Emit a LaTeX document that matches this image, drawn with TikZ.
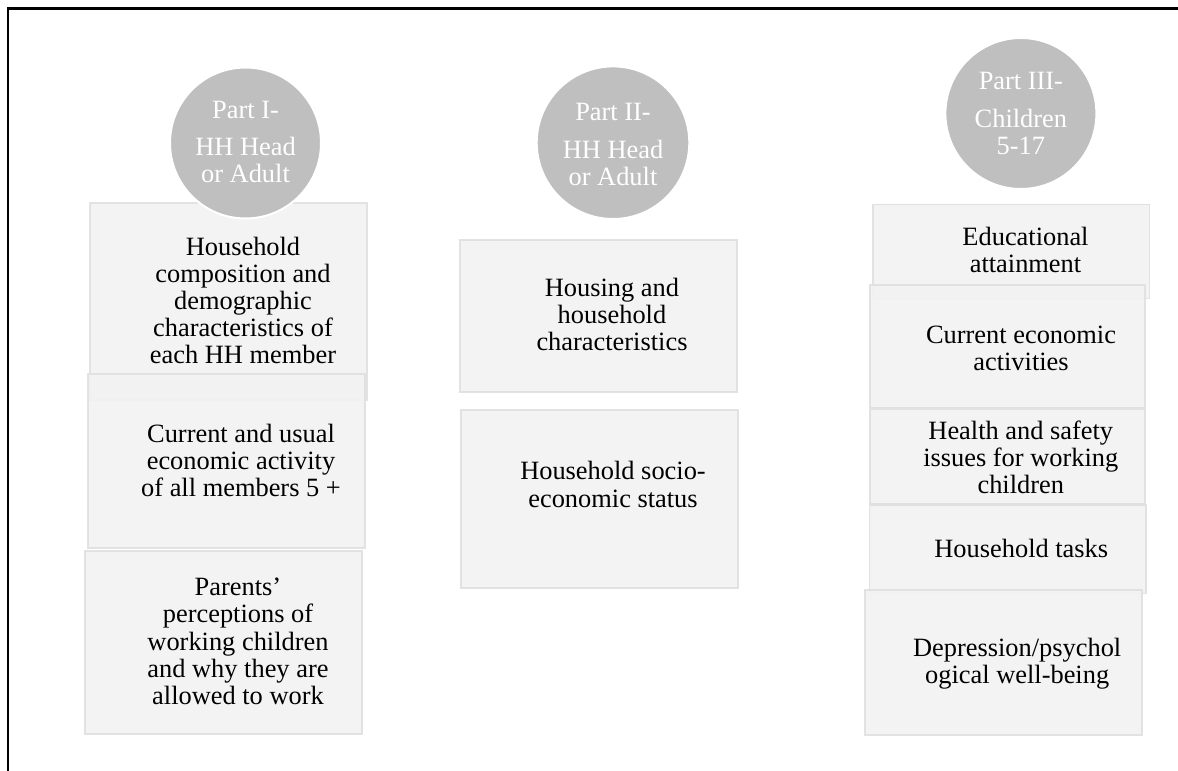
\documentclass[tikz,border=0pt]{standalone}
\usepackage{fontspec}
\setmainfont{Liberation Serif}
\definecolor{boxfill}{HTML}{F2F2F2}
\definecolor{boxedge}{HTML}{E0E0E0}
\definecolor{partfill}{HTML}{BFBFBF}
\begin{document}
\begin{tikzpicture}[x=1pt,y=-1pt,
  topicbox/.style={rectangle, draw=boxedge, fill=boxfill, fill opacity=0.9,
    draw opacity=0.9, line width=1.6pt, inner sep=0pt, outer sep=0pt,
    anchor=north west},
  topictext/.style={inner sep=0pt, align=center, text=black,
    font=\fontsize{26.4}{27.2}\selectfont},
  partdisc/.style={circle, draw=white, fill=partfill, line width=2pt,
    inner sep=0pt, minimum size=151},
  parttext/.style={inner sep=0pt, align=center, text=white,
    font=\fontsize{26.4}{27.2}\selectfont}]
\useasboundingbox (0,0) rectangle (1178,771);
\fill[white] (0,0) rectangle (1178,771);
\draw[line width=2.3pt] (7.8,771) |- (1178,8.6);

% Part I column
\node[topicbox, minimum width=277, minimum height=197] (a1) at (90,203) {};
\node[topictext] (a1t) at (243,304.1)
  {\strut Household\\composition and\\demographic\\characteristics of\\each HH member\strut};
\node[topicbox, minimum width=277, minimum height=174] (a2) at (88,374) {};
\node[topictext] (a2t) at (241,463.8)
  {\strut Current and usual\\economic activity\\of all members 5 +\strut};
\node[topicbox, minimum width=277, minimum height=183] (a3) at (85,551) {};
\node[topictext] (a3t) at (238,644.6)
  {\strut Parents’\\perceptions of\\working children\\and why they are\\allowed to work\strut};
\node[partdisc] (p1) at (245.5,143) {};
\node[parttext] (p1t) at (245.5,145.1)
  {\strut Part I-\\[10.5pt]HH Head\\or Adult\strut};

% Part II column
\node[topicbox, minimum width=277, minimum height=152] (b1) at (460,240) {};
\node[topictext] (b1t) at (612,317.9)
  {\strut Housing and\\household\\characteristics\strut};
\node[topicbox, minimum width=277, minimum height=178] (b2) at (460.7,410) {};
\node[topictext] (b2t) at (613,488)
  {\strut Household socio-\\economic status\strut};
\node[partdisc, minimum size=152.6] (p2) at (613,142.7) {};
\node[parttext] (p2t) at (613,147.6)
  {\strut Part II-\\[10.5pt]HH Head\\or Adult\strut};

% Part III column
\node[partdisc] (p3) at (1020.9,113.5) {};
\node[parttext] (p3t) at (1020.9,116.7)
  {\strut Part III-\\[10.5pt]Children\\5-17\strut};
\node[topicbox, minimum width=276.6, minimum height=94] (c1) at (872.7,204.3) {};
\node[topictext] (c1t) at (1025.5,253.9)
  {\strut Educational\\attainment\strut};
\node[topicbox, minimum width=275, minimum height=123] (c2) at (870,285) {};
\node[topictext] (c2t) at (1021,351.2)
  {\strut Current economic\\activities\strut};
\node[topicbox, minimum width=275, minimum height=94.7] (c3) at (870,409.3) {};
\node[topictext] (c3t) at (1020.8,460.9)
  {\strut Health and safety\\issues for working\\children\strut};
\node[topicbox, minimum width=276.7, minimum height=88.3] (c4) at (869.3,505) {};
\node[topictext] (c4t) at (1021.3,551.9)
  {\strut Household tasks\strut};
\node[topicbox, minimum width=276.7, minimum height=145] (c5) at (865,590) {};
\node[topictext] (c5t) at (1017.2,664.6)
  {\strut Depression/psychol\\ogical well-being\strut};
\end{tikzpicture}
\end{document}
